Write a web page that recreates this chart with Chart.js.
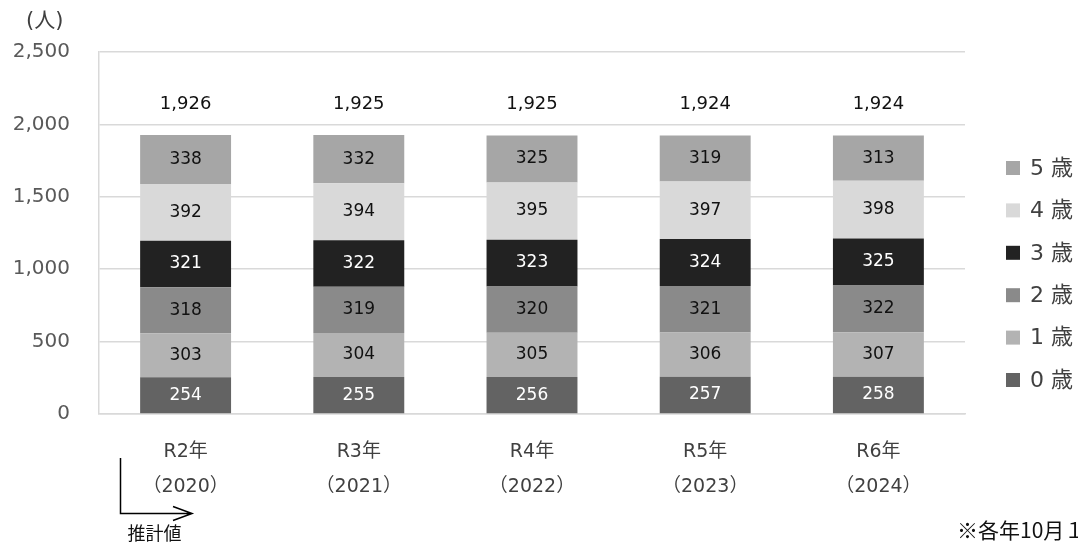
<!DOCTYPE html>
<html><head><meta charset="utf-8">
<script src="https://cdn.jsdelivr.net/npm/chart.js@4/dist/chart.umd.min.js"></script>
<style>html,body{margin:0;padding:0;background:#fff}#wrap{width:1078px;height:544px}</style>
</head><body><div id="wrap"><canvas id="c" width="1078" height="544"></canvas></div>
<script>
const categories = [["R2年","（2020）"],["R3年","（2021）"],["R4年","（2022）"],["R5年","（2023）"],["R6年","（2024）"]];
const age0 = [254,255,256,257,258];
const age1 = [303,304,305,306,307];
const age2 = [318,319,320,321,322];
const age3 = [321,322,323,324,325];
const age4 = [392,394,395,397,398];
const age5 = [338,332,325,319,313];
const totals = [1926,1925,1925,1924,1924];
const seriesNames = ["0 歳","1 歳","2 歳","3 歳","4 歳","5 歳"];
const yTicks = [0,500,1000,1500,2000,2500];

const FONT = '"DejaVu Sans","Noto Sans CJK JP",sans-serif';
const CJK = '"Noto Sans CJK JP","DejaVu Sans",sans-serif';
const colors = ["#636363","#b3b3b3","#8a8a8a","#222222","#d9d9d9","#a6a6a6"];
const labelColors = ["#ffffff","#111111","#111111","#ffffff","#111111","#111111"];
const seriesData = [age0,age1,age2,age3,age4,age5];

const fmt = v => v.toLocaleString('en-US');

const overlay = {
  id:'overlay',
  afterDatasetsDraw(chart){
    const ctx = chart.ctx;
    ctx.save();
    ctx.textAlign='center'; ctx.textBaseline='middle';
    ctx.font = '17px ' + FONT;
    chart.data.datasets.forEach((ds,di)=>{
      const meta = chart.getDatasetMeta(di);
      meta.data.forEach((el,i)=>{
        ctx.fillStyle = labelColors[di];
        ctx.fillText(fmt(ds.data[i]), el.x, (el.y+el.base)/2);
      });
    });
    // totals
    const topMeta = chart.getDatasetMeta(chart.data.datasets.length-1);
    ctx.fillStyle = '#111';
    ctx.font = '18px ' + FONT;
    topMeta.data.forEach((el,i)=>{
      ctx.fillText(fmt(totals[i]), el.x, el.y-31);
    });
    // legend (reverse order)
    ctx.textAlign='left';
    ctx.font = '22px ' + FONT;
    for(let k=0;k<6;k++){
      const di = 5-k;
      const y = 168 + k*42.4;
      ctx.fillStyle = colors[di];
      ctx.fillRect(1006, y-7, 14, 14);
      ctx.fillStyle = '#404040';
      ctx.fillText(seriesNames[di], 1030, y+1);
    }
    // unit label
    ctx.fillStyle='#404040';
    ctx.font = '21px ' + FONT;
    ctx.fillText('(人)', 26, 22);
    // arrow annotation
    ctx.strokeStyle='#000'; ctx.lineWidth=1.5;
    ctx.beginPath();
    ctx.moveTo(120.5,458); ctx.lineTo(120.5,513.5); ctx.lineTo(192,513.5);
    ctx.moveTo(173,506.5); ctx.lineTo(192,513.5); ctx.lineTo(173,520.5);
    ctx.stroke();
    ctx.fillStyle='#111';
    ctx.font = '18px ' + CJK;
    ctx.textAlign='center';
    ctx.fillText('推計値', 154.5, 533);
    ctx.textAlign='left';
    ctx.font = '21px ' + CJK;
    ctx.fillText('※各年10月１日現在', 957, 530);
    ctx.restore();
  }
};

new Chart(document.getElementById('c'), {
  type:'bar',
  data:{
    labels: categories,
    datasets: seriesData.map((d,i)=>({
      label: seriesNames[i], data: d, backgroundColor: colors[i],
      borderWidth:0, barPercentage:0.525, categoryPercentage:1.0
    }))
  },
  options:{
    responsive:false, animation:false, devicePixelRatio:1,
    layout:{padding:{top:52,right:113,left:0,bottom:0}},
    plugins:{legend:{display:false}, tooltip:{enabled:false}},
    scales:{
      x:{
        stacked:true,
        grid:{display:false, drawTicks:false},
        border:{display:true,color:'#d9d9d9',width:1.5},
        ticks:{color:'#404040', font:{size:19,family:FONT,lineHeight:1.82}, padding:21, maxRotation:0, autoSkip:false},
        afterFit(s){ s.height = 130; }
      },
      y:{
        stacked:true, min:0, max:2500,
        afterBuildTicks(s){ s.ticks = yTicks.map(v=>({value:v})); },
        grid:{color:'#d9d9d9', lineWidth:1.5, drawTicks:false},
        border:{display:true,color:'#d9d9d9',width:1.5},
        ticks:{color:'#595959', font:{size:20,family:FONT}, padding:29, callback:v=>fmt(v)},
        afterFit(s){ s.width = 99; }
      }
    }
  },
  plugins:[overlay]
});
</script></body></html>
